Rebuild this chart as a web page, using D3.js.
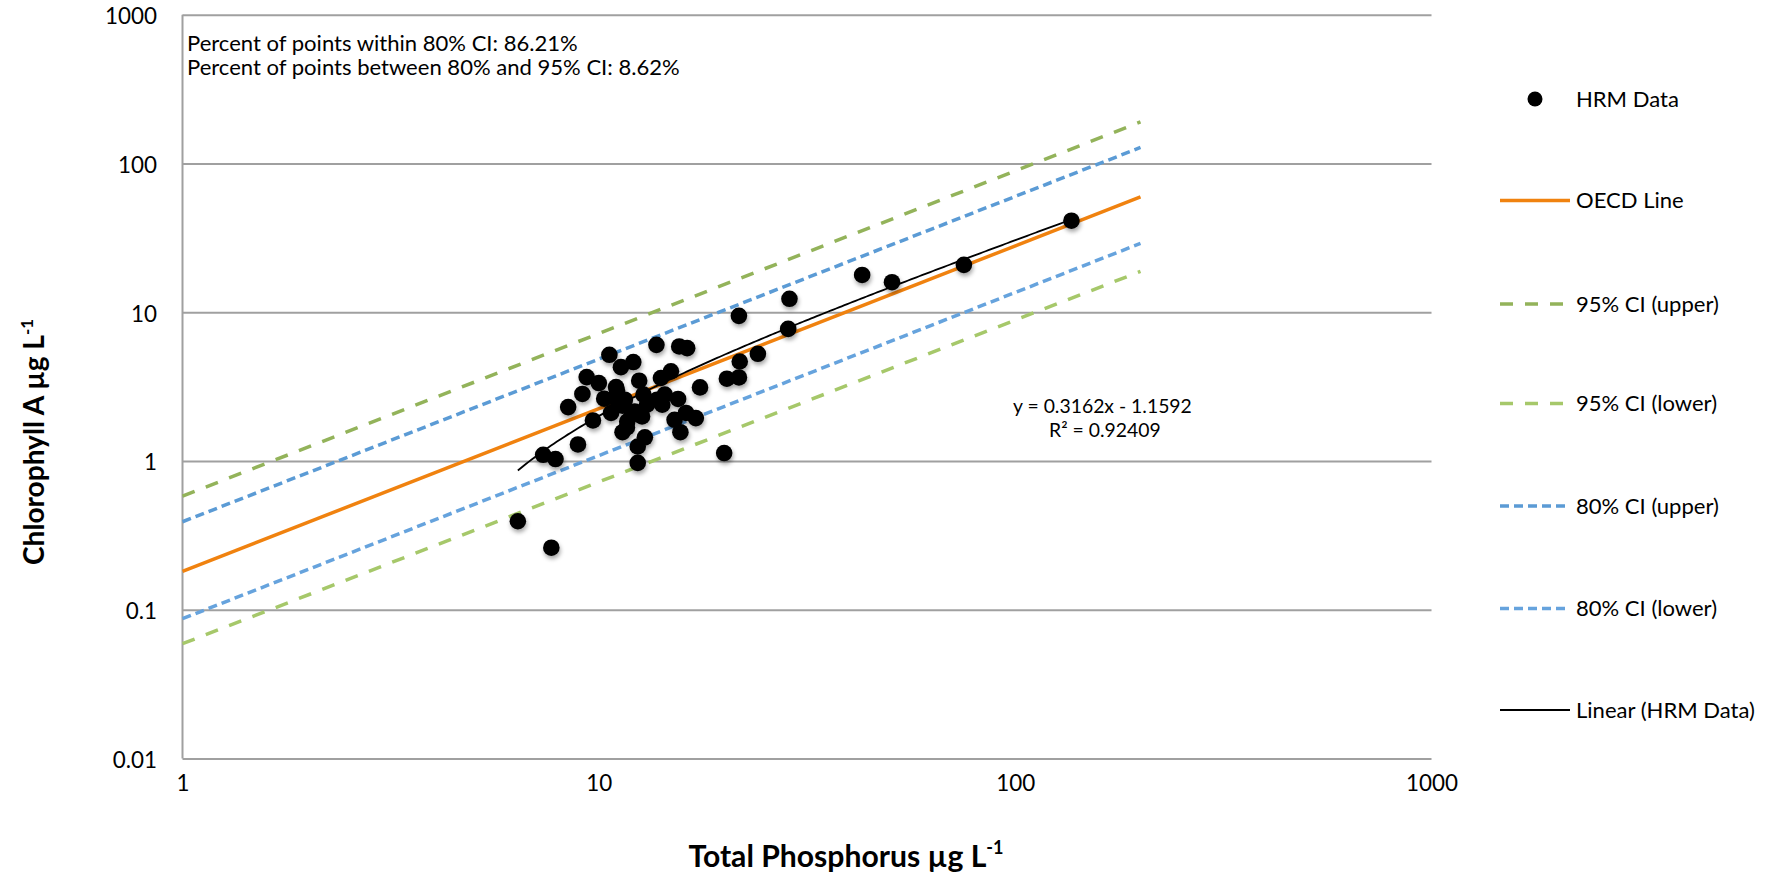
<!DOCTYPE html>
<html><head><meta charset="utf-8">
<script src="https://cdn.jsdelivr.net/npm/d3@7"></script>
<style>body{margin:0;background:#fff}</style>
</head><body>
<svg id="c" width="1767" height="876"></svg>
<script>
// ---- data ----
const hrmTP = [21.7,13.75,15.6,16.3,10.6,12.1,11.3,14.9,24.1,21.8,9.35,10.0,12.5,14.1,20.3,21.7,11.0,9.13,17.5,12.8,10.9,13.8,15.5,8.44,11.4,14.2,10.7,12.2,12.7,16.2,17.1,9.68,11.7,15.2,11.4,15.7,12.9,8.91,12.4,20.0,7.35,7.87,12.4,136.5,75.3,50.6,42.9,28.7,28.5,6.39,7.69,11.06,11.55,12.0,11.68,13.05,14.4,10.3];
const hrmChl = [9.45,6.03,5.88,5.73,5.17,4.62,4.27,4.0,5.25,4.66,3.66,3.34,3.46,3.61,3.57,3.64,3.14,2.82,3.12,2.79,2.65,2.58,2.61,2.30,2.35,2.39,2.10,2.15,1.99,2.10,1.94,1.87,1.84,1.89,1.56,1.56,1.44,1.29,1.25,1.13,1.10,1.03,0.97,41.2,20.8,15.9,17.8,12.3,7.72,0.393,0.261,2.97,2.58,2.05,1.68,2.39,2.79,2.62];
const oecdLine = [[1,0.181],[200,59.5]];
const ci95Upper = [[1,0.58],[200,190]];
const ci95Lower = [[1,0.059],[200,18.8]];
const ci80Upper = [[1,0.39],[200,128]];
const ci80Lower = [[1,0.087],[200,29]];
const trendSlope = 0.3162;
const trendIntercept = -1.1592;
const xTicks = [1,10,100,1000];
const yTicks = [0.01,0.1,1,10,100,1000];
const noteLines = ["Percent of points within 80% CI: 86.21%","Percent of points between 80% and 95% CI: 8.62%"];
const eqLines = ["y = 0.3162x - 1.1592","R\u00B2 = 0.92409"];
const legendLabels = ["HRM Data","OECD Line","95% CI (upper)","95% CI (lower)","80% CI (upper)","80% CI (lower)","Linear (HRM Data)"];

// ---- setup ----
const FONT = "Lato, 'Open Sans', sans-serif";
const svg = d3.select("#c");
svg.append("rect").attr("width",1767).attr("height",876).attr("fill","#fff");
const L=182.5,R=1431.5,T=14.7,B=758.4;
const x = d3.scaleLog().domain([1,1000]).range([L,R]);
const y = d3.scaleLog().domain([0.01,1000]).range([B,T]);

function fit(str, target, weight){
  const t = svg.append("text").attr("font-family",FONT).attr("font-size",100)
    .attr("font-weight",weight||400).text(str);
  const w = t.node().getComputedTextLength(); t.remove();
  return 100*target/w;
}

const defs = svg.append("defs");
const f = defs.append("filter").attr("id","sh").attr("x","-50%").attr("y","-50%").attr("width","200%").attr("height","200%");
f.append("feDropShadow").attr("dx",1).attr("dy",3).attr("stdDeviation",2)
  .attr("flood-color","#000").attr("flood-opacity",0.35);

// gridlines
const grid = svg.append("g").attr("transform",`translate(${L},0)`)
  .call(d3.axisLeft(y).tickValues(yTicks).tickSize(-(R-L)).tickFormat(""));
grid.select(".domain").remove();
grid.selectAll("line").attr("stroke","#a0a0a0").attr("stroke-width",2);
svg.append("line").attr("x1",L).attr("x2",L).attr("y1",T).attr("y2",B)
  .attr("stroke","#a0a0a0").attr("stroke-width",2);

// axes labels
const tickFs = fit("1000", 52);
const yAx = svg.append("g").attr("transform",`translate(${L},0)`)
  .call(d3.axisLeft(y).tickValues(yTicks).tickSize(0).tickPadding(25.5).tickFormat(d3.format("~g")));
yAx.select(".domain").remove();
yAx.selectAll("text").attr("font-family",FONT).attr("font-size",tickFs).attr("fill","#000").attr("dy","0.4em");
const xAx = svg.append("g").attr("transform",`translate(0,${B})`)
  .call(d3.axisBottom(x).tickValues(xTicks).tickSize(0).tickPadding(25).tickFormat(d3.format("~g")));
xAx.select(".domain").remove();
xAx.selectAll("text").attr("font-family",FONT).attr("font-size",tickFs).attr("fill","#000").attr("dy","0.35em");

// lines
const line = d3.line().x(d=>x(d[0])).y(d=>y(d[1]));
const series = [
  {d:ci95Upper,c:"#93b35a",dash:"13,12"},
  {d:ci95Lower,c:"#a6c86a",dash:"13,12"},
  {d:ci80Upper,c:"#5b9bd5",dash:"9,5"},
  {d:ci80Lower,c:"#66a3dd",dash:"9,5"},
  {d:oecdLine,c:"#f0820f",dash:null}
];
series.forEach(s=>{
  svg.append("path").attr("d",line(s.d)).attr("fill","none").attr("stroke",s.c)
    .attr("stroke-width",3.5).attr("stroke-dasharray",s.dash);
});

// points
const pts = hrmTP.map((t,i)=>[t,hrmChl[i]]);
svg.append("g").attr("filter","url(#sh)").selectAll("circle").data(pts).join("circle")
  .attr("cx",d=>x(d[0])).attr("cy",d=>y(d[1])).attr("r",8.3).attr("fill","#000");

// trend line (linear fit shown on log axes)
const [tMin,tMax] = d3.extent(hrmTP);
const lt = d3.scaleLinear().domain([0,200]).range([Math.log10(tMin),Math.log10(tMax)]);
const trendPts = d3.range(0,201).map(i=>{const xv=Math.pow(10,lt(i));return [xv,trendSlope*xv+trendIntercept];});
svg.append("path").attr("d",line(trendPts)).attr("fill","none").attr("stroke","#000").attr("stroke-width",1.8);

// notes
const noteFs = fit(noteLines[0], 391);
noteLines.forEach((s,i)=>{
  svg.append("text").attr("x",187).attr("y",43+i*24.6).attr("dy","0.35em")
    .attr("font-family",FONT).attr("font-size",noteFs).attr("fill","#000").text(s);
});
const eqFs = fit(eqLines[0], 179);
[[1013,406],[1049,430]].forEach((p,i)=>{
  svg.append("text").attr("x",p[0]).attr("y",p[1]).attr("dy","0.35em")
    .attr("font-family",FONT).attr("font-size",eqFs).attr("fill","#000").text(eqLines[i]);
});

// legend
const legFs = fit(legendLabels[6], 179);
const legY = [99,200.6,304,403.5,506,608.6,710];
const legStyle = [null,series[4],series[0],series[1],series[2],series[3],{c:"#000",dash:null,w:1.8}];
legendLabels.forEach((lab,i)=>{
  const g = svg.append("g");
  if(i===0){
    g.append("circle").attr("cx",1535).attr("cy",legY[i]).attr("r",7.5).attr("fill","#000");
  } else {
    const s = legStyle[i];
    g.append("line").attr("x1",1500).attr("x2",1570).attr("y1",legY[i]).attr("y2",legY[i])
      .attr("stroke",s.c).attr("stroke-width",s.w||3.5).attr("stroke-dasharray",s.dash);
  }
  g.append("text").attr("x",1576).attr("y",legY[i]).attr("dy","0.35em")
    .attr("font-family",FONT).attr("font-size",legFs).attr("fill","#000").text(lab);
});

// axis titles
const xtFs = fit("Total Phosphorus \u00B5g L", 298, 700);
const xt = svg.append("text").attr("x",846).attr("y",856).attr("dy","0.35em").attr("text-anchor","middle")
  .attr("font-family",FONT).attr("font-weight",700).attr("font-size",xtFs).attr("fill","#000");
xt.append("tspan").text("Total Phosphorus \u00B5g L");
xt.append("tspan").attr("dy",-xtFs*0.4).attr("font-size",xtFs*0.6).text("-1");
const ytFs = fit("Chlorophyll A \u00B5g L", 230, 700);
const yt = svg.append("text").attr("transform","translate(34,442) rotate(-90)").attr("dy","0.35em").attr("text-anchor","middle")
  .attr("font-family",FONT).attr("font-weight",700).attr("font-size",ytFs).attr("fill","#000");
yt.append("tspan").text("Chlorophyll A \u00B5g L");
yt.append("tspan").attr("dy",-ytFs*0.4).attr("font-size",ytFs*0.6).text("-1");
</script>
</body></html>
